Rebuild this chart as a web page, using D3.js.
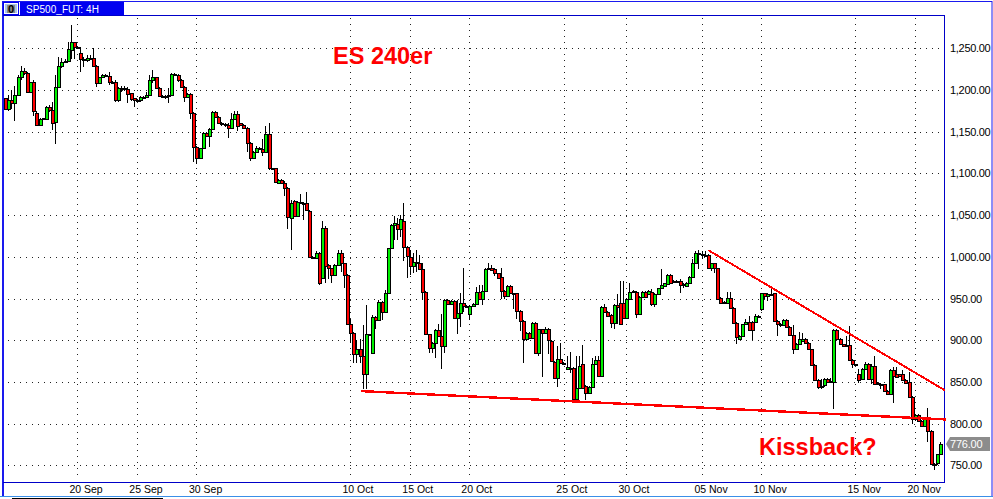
<!DOCTYPE html>
<html><head><meta charset="utf-8">
<style>html,body{margin:0;padding:0;background:#fff;overflow:hidden}svg{display:block}</style>
<script src="https://cdn.jsdelivr.net/npm/d3@7/dist/d3.min.js"></script></head>
<body><svg id="c" width="993" height="499"></svg>
<script>
const opens=[1190,1177,1188,1184,1194,1215,1223,1220,1198,1209,
1173,1158,1165,1165,1180,1176,1162,1204,1229,1233,
1235,1248,1257,1252,1244,1237,1236,1238,1238,1229,
1208,1215,1218,1217,1210,1209,1188,1202,1202,1201,
1196,1190,1188,1188,1192,1192,1194,1212,1215,1202,
1193,1193,1194,1194,1219,1218,1212,1204,1192,1195,
1172,1132,1119,1130,1149,1145,1153,1174,1168,1161,
1159,1158,1155,1165,1171,1160,1158,1155,1137,1119,
1126,1131,1129,1126,1147,1106,1106,1089,1092,1089,
1083,1047,1067,1049,1066,1065,1065,1055,1000,999,
1005,974,1034,990,986,978,990,1005,992,978,
919,909,883,889,881,860,907,885,928,924,
946,934,956,1010,1038,1039,1033,1043,1012,1000,
989,994,992,985,958,907,891,897,912,905,
893,948,944,947,927,933,945,941,931,941,
944,958,949,959,985,987,985,980,976,959,
953,965,956,956,935,923,901,909,903,921,
885,913,909,914,899,874,855,878,873,865,
867,867,829,843,871,845,837,844,871,876,
857,940,934,930,921,942,945,945,927,950,
959,958,932,952,958,955,958,944,955,962,
965,967,978,971,971,971,967,965,969,976,
993,1004,1003,1002,1002,987,992,986,951,946,
945,951,939,921,902,905,919,922,922,922,
929,938,956,953,955,956,923,920,918,924,
916,906,890,896,899,902,897,889,870,852,
845,846,853,851,850,912,902,895,894,894,
876,871,860,854,866,872,854,869,849,848,
847,839,835,864,860,859,859,852,850,832,
806,810,803,797,805,791,752,753,763];
const highs=[1191,1194,1200,1205,1218,1229,1226,1222,1210,1212,
1175,1166,1167,1181,1182,1186,1218,1240,1238,1237,
1257,1278,1258,1253,1252,1240,1242,1242,1250,1230,
1216,1219,1219,1222,1211,1212,1203,1205,1205,1203,
1197,1191,1189,1193,1193,1198,1218,1224,1216,1203,
1194,1194,1202,1220,1220,1219,1213,1205,1196,1196,
1174,1133,1131,1150,1150,1155,1175,1175,1169,1162,
1160,1160,1173,1175,1175,1161,1159,1156,1138,1127,
1133,1132,1141,1157,1160,1107,1107,1093,1093,1091,
1084,1068,1068,1067,1075,1066,1078,1056,1001,1007,
1006,1043,1037,991,987,991,1008,1008,993,979,
926,910,900,902,918,942,908,930,929,948,
947,960,1011,1039,1049,1046,1050,1065,1013,1008,
1004,1008,1002,992,959,908,898,913,919,931,
949,949,948,948,948,956,987,942,942,945,
964,966,966,986,992,990,986,981,986,960,
966,966,957,957,936,924,910,910,922,922,
914,914,916,915,900,875,893,897,874,881,
886,868,881,881,894,846,845,879,881,881,
941,943,935,931,943,955,971,971,951,969,
960,959,953,959,959,960,961,956,963,985,
969,979,979,972,972,973,968,970,977,997,
1007,1008,1007,1007,1003,993,993,987,952,947,
958,958,940,922,906,920,926,929,923,931,
930,957,957,956,963,957,924,921,925,925,
917,918,897,910,909,903,898,890,871,853,
853,855,855,855,913,913,903,896,905,917,
877,872,865,867,874,873,872,881,850,849,
848,840,865,868,868,860,864,853,862,833,
812,811,804,806,819,792,753,764,778];
const lows=[1176,1175,1177,1163,1194,1212,1218,1197,1197,1169,
1157,1158,1164,1164,1174,1152,1135,1204,1226,1232,
1233,1237,1237,1251,1222,1228,1234,1236,1228,1204,
1207,1214,1216,1206,1208,1186,1186,1198,1199,1185,
1187,1180,1186,1186,1190,1191,1193,1208,1201,1192,
1190,1189,1184,1193,1218,1210,1203,1186,1191,1165,
1114,1111,1118,1129,1144,1132,1152,1167,1160,1157,
1156,1143,1154,1164,1151,1157,1154,1126,1115,1118,
1125,1128,1121,1125,1104,1105,1089,1088,1087,1073,
1033,1008,1048,1048,1063,1044,1055,999,999,998,
966,973,968,973,969,977,989,982,963,918,
897,873,873,873,841,841,906,884,914,923,
924,933,955,1009,1020,1020,1024,995,974,978,
980,982,984,948,906,885,885,879,904,865,
885,943,942,926,907,916,934,940,924,940,
943,948,942,958,984,983,977,974,949,950,
952,955,937,925,911,873,899,902,902,883,
881,856,908,883,874,854,844,872,872,864,
861,825,825,842,842,828,836,843,870,856,
856,933,928,915,914,919,919,926,926,949,
958,927,931,951,951,954,941,940,954,961,
964,966,967,970,970,957,963,964,968,975,
992,985,997,1000,985,983,981,949,944,945,
944,938,920,896,901,904,918,911,900,921,
928,935,949,947,954,922,905,916,917,915,
905,883,889,895,898,896,888,869,851,842,
841,844,849,849,817,901,894,892,892,875,
867,870,849,853,865,853,848,847,847,842,
838,834,834,825,855,856,851,848,831,800,
803,802,796,796,778,751,744,750,762];
const closes=[1177,1188,1184,1194,1215,1223,1220,1198,1209,1175,
1158,1165,1166,1180,1176,1161,1204,1229,1233,1235,
1249,1257,1252,1252,1237,1236,1238,1238,1229,1208,
1215,1218,1218,1210,1209,1188,1202,1202,1201,1195,
1189,1188,1188,1192,1192,1194,1212,1215,1202,1193,
1193,1192,1194,1219,1219,1212,1204,1192,1195,1172,
1132,1119,1130,1149,1145,1153,1174,1168,1161,1159,
1158,1155,1165,1171,1157,1158,1155,1137,1119,1126,
1131,1129,1126,1147,1106,1106,1090,1092,1088,1083,
1048,1065,1049,1066,1064,1065,1056,1000,1000,1005,
968,1034,989,986,978,990,1005,992,978,919,
909,883,889,881,860,907,907,928,924,946,
934,956,1010,1038,1040,1033,1045,1012,1001,989,
994,994,985,958,907,891,897,912,905,893,
948,944,947,927,933,945,941,941,941,944,
958,949,959,985,987,984,980,975,959,953,
965,956,956,935,923,901,909,903,921,885,
913,909,914,900,875,855,878,873,873,868,
867,829,843,869,843,837,844,871,876,857,
940,934,929,921,942,940,920,927,950,958,
959,932,952,958,952,959,944,955,962,966,
968,978,968,971,971,966,967,969,976,993,
1004,1004,1003,1002,987,992,986,950,945,946,
951,939,921,904,905,919,922,912,912,929,
929,956,953,955,955,923,920,920,924,916,
906,890,896,901,902,897,889,870,852,844,
845,854,850,850,912,902,895,893,893,876,
871,871,852,866,872,854,869,848,848,848,
839,835,864,857,856,857,852,849,832,806,
810,803,797,805,791,752,752,763,776];
const priceTicks=[1250,1200,1150,1100,1050,1000,950,900,850,800,750];
const dateLabels=["20 Sep","25 Sep","30 Sep","10 Oct","15 Oct","20 Oct","25 Oct","30 Oct","05 Nov","10 Nov","15 Nov","20 Nov"];
const dateBars=[22.6,41.7,60.7,109.6,128.7,147.5,177.8,197.6,221.8,240.6,270.6,289.7];
const supportBars=[113,299.5], supportPrices=[839,805];
const resistBars=[223.8,299.2], resistPrices=[1008,840];
const lastPrice=776;
const title="SP500_FUT: 4H", note1="ES 240er", note2="Kissback?";

const svg=d3.select("#c");
const x=d3.scaleLinear().domain([0,opens.length-1]).range([6,941]);
const y=d3.scaleLinear().domain([750,1250]).range([465.3,48.3]);
const px=v=>Math.round(v);
const BLUE="#0000c8";
const font='"Liberation Sans",Arial,sans-serif';

// frame
svg.append("rect").attr("x",2.5).attr("y",1.5).attr("width",989.5).attr("height",495).attr("fill","#fff").attr("stroke","#1a1aee");
svg.append("line").attr("x1",3).attr("x2",3).attr("y1",1).attr("y2",496).attr("stroke","#1a1aee").attr("stroke-width",2);
svg.append("line").attr("x1",0).attr("x2",993).attr("y1",496.5).attr("y2",496.5).attr("stroke","#3a8fe8");
svg.append("line").attr("x1",12).attr("x2",163).attr("y1",498.5).attr("y2",498.5).attr("stroke","#000");

// title bar
svg.append("rect").attr("x",3).attr("y",2).attr("width",121).attr("height",13).attr("fill","#0000f0");
svg.append("rect").attr("x",4.5).attr("y",3.5).attr("width",13).attr("height",10).attr("fill","#a9c4e6").attr("stroke","#fff");
svg.append("rect").attr("x",7).attr("y",5).attr("width",8).attr("height",8).attr("fill","#8a8a8a");
svg.append("text").attr("x",11).attr("y",13).attr("text-anchor","middle").attr("font-family",font).attr("font-size",11).attr("font-weight","bold").attr("fill","#000").text("0");
svg.append("line").attr("x1",19.5).attr("x2",19.5).attr("y1",2).attr("y2",15).attr("stroke","#fff");
svg.append("text").attr("x",26).attr("y",13).attr("font-family",font).attr("font-size",10).attr("fill","#fff").attr("letter-spacing",0.05).text(title);

// plot frame
svg.append("path").attr("d","M3 15.5H944.5V482.5H3").attr("fill","none").attr("stroke",BLUE).style("shape-rendering","crispEdges");

// grid
const grid=svg.append("g").attr("stroke","#222").attr("stroke-width",1).attr("stroke-dasharray","1 5").style("shape-rendering","crispEdges");
grid.selectAll("line.h").data(priceTicks).join("line").attr("class","h")
 .attr("x1",8).attr("x2",941).attr("y1",d=>px(y(d))+.5).attr("y2",d=>px(y(d))+.5);
grid.selectAll("line.v").data(dateBars).join("line").attr("class","v")
 .attr("x1",d=>px(x(d))+.5).attr("x2",d=>px(x(d))+.5).attr("y1",18).attr("y2",480);

// candles
const g=svg.append("g").style("shape-rendering","crispEdges");
const bars=g.selectAll("g").data(opens.map((o,i)=>i)).join("g");
bars.append("line").attr("x1",i=>px(x(i))-.5).attr("x2",i=>px(x(i))-.5)
 .attr("y1",i=>y(highs[i])).attr("y2",i=>y(lows[i])).attr("stroke","#000");
bars.append("rect").attr("x",i=>px(x(i))-1.5).attr("width",3)
 .attr("y",i=>px(y(Math.max(opens[i],closes[i])))+.5)
 .attr("height",i=>Math.max(1,px(y(Math.min(opens[i],closes[i])))-px(y(Math.max(opens[i],closes[i])))))
 .attr("fill",i=>closes[i]>=opens[i]?"#00f000":"#ff0000").attr("stroke","#000");

// trend lines
const tl=d3.line().x(d=>x(d[0])).y(d=>y(d[1]));
svg.append("path").attr("d",tl(supportBars.map((b,i)=>[b,supportPrices[i]]))).attr("stroke","#ff0000").attr("stroke-width",2.4).attr("fill","none").style("shape-rendering","crispEdges");
svg.append("path").attr("d",tl(resistBars.map((b,i)=>[b,resistPrices[i]]))).attr("stroke","#ff0000").attr("stroke-width",2).attr("fill","none").style("shape-rendering","crispEdges");

// axes
const ya=svg.append("g").attr("transform","translate(945,0)")
 .call(d3.axisRight(y).tickValues(priceTicks).tickFormat(d3.format(",.2f")).tickSize(0).tickPadding(5));
ya.select(".domain").remove();
ya.selectAll("text").attr("font-family",font).attr("font-size",11).attr("fill","#000").attr("letter-spacing",-0.3);
const xa=svg.append("g").attr("transform","translate(0,482)")
 .call(d3.axisBottom(x).tickValues(dateBars).tickFormat((d,i)=>dateLabels[i]).tickSize(0).tickPadding(3));
xa.select(".domain").remove();
xa.selectAll("text").attr("font-family",font).attr("font-size",10.5).attr("fill","#000").attr("text-anchor","start").attr("dx",-8).attr("dy",".72em");

// last price tag
const ly=px(y(lastPrice));
svg.append("path").attr("d",`M946 ${ly}L950 ${ly-7}H990V${ly+7}H950Z`).attr("fill","#8c8c8c");
svg.append("text").attr("x",950).attr("y",ly+4).attr("font-family",font).attr("font-size",11).attr("fill","#fff").attr("letter-spacing",-0.2).text(d3.format(".2f")(lastPrice));

// annotations
svg.append("text").attr("x",333).attr("y",64).attr("font-family",font).attr("font-weight","bold").attr("font-size",23.5).attr("fill","#ff0000").text(note1);
svg.append("text").attr("x",759).attr("y",455).attr("font-family",font).attr("font-weight","bold").attr("font-size",23.5).attr("fill","#ff0000").text(note2);
</script></body></html>
